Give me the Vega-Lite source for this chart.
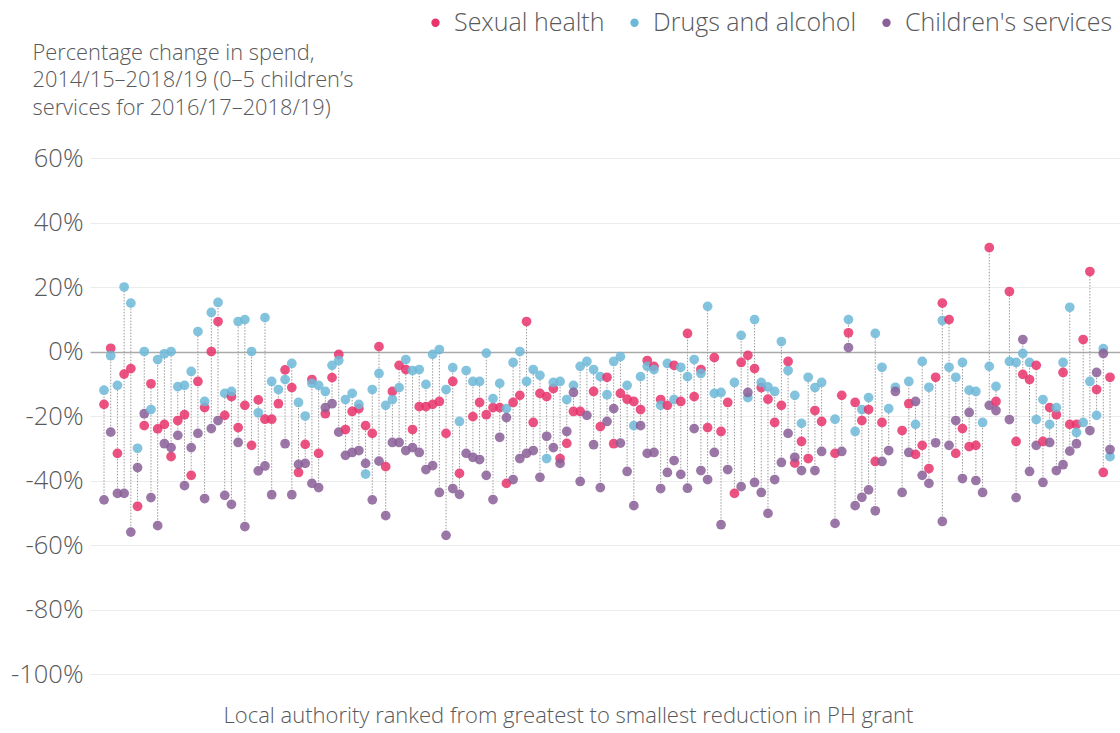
{
  "$schema": "https://vega.github.io/schema/vega-lite/v6.json",
  "width": 1030,
  "height": 516,
  "autosize": "none",
  "padding": {"left": 90, "top": 158, "right": 0, "bottom": 59},
  "background": "white",
  "config": {"font": "Open Sans", "view": {"stroke": null}},
  "data": {"values": [
    {"rank":1,"sh":-16.4,"da":-12,"cs":-46},
    {"rank":2,"sh":1,"da":-1.3,"cs":-25},
    {"rank":3,"sh":-31.6,"da":-10.5,"cs":-44},
    {"rank":4,"sh":-7,"da":20,"cs":-44},
    {"rank":5,"sh":-5.3,"da":15,"cs":-56},
    {"rank":6,"sh":-48,"da":-30,"cs":-36},
    {"rank":7,"sh":-23,"da":0,"cs":-19.3},
    {"rank":8,"sh":-10,"da":-18,"cs":-45.3},
    {"rank":9,"sh":-24,"da":-2.5,"cs":-54},
    {"rank":10,"sh":-22.6,"da":-0.7,"cs":-28.6},
    {"rank":11,"sh":-32.6,"da":0,"cs":-29.8},
    {"rank":12,"sh":-21.4,"da":-10.9,"cs":-26},
    {"rank":13,"sh":-19.6,"da":-10.5,"cs":-41.6},
    {"rank":14,"sh":-38.4,"da":-6.2,"cs":-29.8},
    {"rank":15,"sh":-9.3,"da":6.2,"cs":-25.4},
    {"rank":16,"sh":-17.4,"da":-15.5,"cs":-45.6},
    {"rank":17,"sh":0,"da":12.1,"cs":-23.9},
    {"rank":18,"sh":9.3,"da":15.2,"cs":-21.4},
    {"rank":19,"sh":-19.8,"da":-13,"cs":-44.6},
    {"rank":20,"sh":-14,"da":-12.4,"cs":-47.4},
    {"rank":21,"sh":-23.6,"da":9.3,"cs":-28.2},
    {"rank":22,"sh":-16.7,"da":9.9,"cs":-54.3},
    {"rank":23,"sh":-29.1,"da":0,"cs":null},
    {"rank":24,"sh":-15,"da":-19,"cs":-37},
    {"rank":25,"sh":-21,"da":10.5,"cs":-35.5},
    {"rank":26,"sh":-21,"da":-9.3,"cs":-44.4},
    {"rank":27,"sh":-16.2,"da":-11.8,"cs":null},
    {"rank":28,"sh":-5.7,"da":-8.7,"cs":-28.6},
    {"rank":29,"sh":-11.2,"da":-3.7,"cs":-44.4},
    {"rank":30,"sh":-37.5,"da":-15.8,"cs":-35},
    {"rank":31,"sh":-28.8,"da":-20,"cs":-34.7},
    {"rank":32,"sh":-8.7,"da":-9.9,"cs":-40.9},
    {"rank":33,"sh":-31.6,"da":-10.5,"cs":-42.2},
    {"rank":34,"sh":-19.3,"da":-12.4,"cs":-17.4},
    {"rank":35,"sh":-8.1,"da":-4.3,"cs":-16.2},
    {"rank":36,"sh":-0.9,"da":-2.8,"cs":-25},
    {"rank":37,"sh":-24.2,"da":-14.9,"cs":-32.2},
    {"rank":38,"sh":-18.6,"da":-13,"cs":-31.3},
    {"rank":39,"sh":-17.7,"da":-16.4,"cs":-30.7},
    {"rank":40,"sh":-23,"da":-38,"cs":-34.7},
    {"rank":41,"sh":-25.4,"da":-11.8,"cs":-46},
    {"rank":42,"sh":1.5,"da":-6.8,"cs":-34},
    {"rank":43,"sh":-35.7,"da":-16.7,"cs":-50.9},
    {"rank":44,"sh":-12.4,"da":-14.9,"cs":-28.2},
    {"rank":45,"sh":-4.3,"da":-11.2,"cs":-28.2},
    {"rank":46,"sh":-5.6,"da":-2.5,"cs":-30.7},
    {"rank":47,"sh":-24.2,"da":-5.9,"cs":-29.8},
    {"rank":48,"sh":-17.1,"da":-5.6,"cs":-31.3},
    {"rank":49,"sh":-17.1,"da":-10.2,"cs":-36.6},
    {"rank":50,"sh":-16.4,"da":-0.9,"cs":-35.4},
    {"rank":51,"sh":-15.5,"da":0.6,"cs":-43.7},
    {"rank":52,"sh":-25.4,"da":-11.8,"cs":-57},
    {"rank":53,"sh":-9.3,"da":-5,"cs":-42.5},
    {"rank":54,"sh":-37.8,"da":-21.7,"cs":-44.3},
    {"rank":55,"sh":null,"da":-5.9,"cs":-31.6},
    {"rank":56,"sh":-20.2,"da":-9.3,"cs":-32.8},
    {"rank":57,"sh":-15.8,"da":-9.3,"cs":-33.5},
    {"rank":58,"sh":-19.6,"da":-0.5,"cs":-38.4},
    {"rank":59,"sh":-17.4,"da":-14.6,"cs":-45.9},
    {"rank":60,"sh":-17.4,"da":-9.9,"cs":-26.6},
    {"rank":61,"sh":-40.9,"da":-17.7,"cs":-20.5},
    {"rank":62,"sh":-15.8,"da":-3.4,"cs":-39.7},
    {"rank":63,"sh":-13.6,"da":0,"cs":-33.2},
    {"rank":64,"sh":9.3,"da":-9.3,"cs":-31.6},
    {"rank":65,"sh":-22,"da":-5.6,"cs":-30.7},
    {"rank":66,"sh":-13,"da":-7.4,"cs":-39},
    {"rank":67,"sh":-14,"da":-33.2,"cs":-26.3},
    {"rank":68,"sh":-11.5,"da":-9.6,"cs":-29.8},
    {"rank":69,"sh":-33.2,"da":-9.3,"cs":-34.7},
    {"rank":70,"sh":-28.5,"da":-14.9,"cs":-24.8},
    {"rank":71,"sh":-18.6,"da":-10.5,"cs":-12.7},
    {"rank":72,"sh":-18.6,"da":-4.6,"cs":-40.3},
    {"rank":73,"sh":null,"da":-3.1,"cs":-19.8},
    {"rank":74,"sh":-12.4,"da":-5.6,"cs":-28.9},
    {"rank":75,"sh":-23.3,"da":-7.8,"cs":-42.2},
    {"rank":76,"sh":-8,"da":-13.4,"cs":-21.7},
    {"rank":77,"sh":-28.6,"da":-3.1,"cs":-17.7},
    {"rank":78,"sh":-13,"da":-1.6,"cs":-28.4},
    {"rank":79,"sh":-14.8,"da":-10.5,"cs":-37.2},
    {"rank":80,"sh":-15.5,"da":-23,"cs":-47.8},
    {"rank":81,"sh":-18,"da":-7.8,"cs":-23},
    {"rank":82,"sh":-2.8,"da":-4.6,"cs":-31.6},
    {"rank":83,"sh":-4.6,"da":-5.6,"cs":-31.3},
    {"rank":84,"sh":-14.9,"da":-16.7,"cs":-42.5},
    {"rank":85,"sh":-16.7,"da":-3.7,"cs":-37.5},
    {"rank":86,"sh":-4.3,"da":-14.9,"cs":-33.8},
    {"rank":87,"sh":-15.5,"da":-4.9,"cs":-38.1},
    {"rank":88,"sh":5.6,"da":-7.8,"cs":-42.4},
    {"rank":89,"sh":-14,"da":-2.5,"cs":-23.9},
    {"rank":90,"sh":-5.6,"da":-6.8,"cs":-36.9},
    {"rank":91,"sh":-23.6,"da":14,"cs":-39.7},
    {"rank":92,"sh":-1.9,"da":-13,"cs":-31.3},
    {"rank":93,"sh":-24.8,"da":-12.7,"cs":-53.7},
    {"rank":94,"sh":-15.8,"da":null,"cs":-36.6},
    {"rank":95,"sh":-44,"da":-9.6,"cs":null},
    {"rank":96,"sh":-3.4,"da":5,"cs":-41.9},
    {"rank":97,"sh":-1.2,"da":-14.3,"cs":-12.7},
    {"rank":98,"sh":-5.3,"da":9.9,"cs":-40.6},
    {"rank":99,"sh":-11.2,"da":-9.6,"cs":-43.7},
    {"rank":100,"sh":-14.8,"da":-11,"cs":-50.2},
    {"rank":101,"sh":-22,"da":-12.4,"cs":-39.7},
    {"rank":102,"sh":-16.7,"da":3.1,"cs":-34.4},
    {"rank":103,"sh":-3.1,"da":-5.9,"cs":-25.4},
    {"rank":104,"sh":-34.6,"da":-13.6,"cs":-32.8},
    {"rank":105,"sh":-27.9,"da":-22.3,"cs":-36.9},
    {"rank":106,"sh":-33.2,"da":-8,"cs":null},
    {"rank":107,"sh":-18.3,"da":-11.2,"cs":-36.9},
    {"rank":108,"sh":-21.7,"da":-9.6,"cs":-31},
    {"rank":110,"sh":-31.6,"da":-21,"cs":-53.3},
    {"rank":111,"sh":-13.6,"da":null,"cs":-31},
    {"rank":112,"sh":5.8,"da":9.9,"cs":1.2},
    {"rank":113,"sh":-15.8,"da":-24.8,"cs":-47.8},
    {"rank":114,"sh":-21.4,"da":-18,"cs":-45.2},
    {"rank":115,"sh":-18,"da":-14.3,"cs":-42.9},
    {"rank":116,"sh":-34.1,"da":5.6,"cs":-49.4},
    {"rank":117,"sh":-22,"da":-4.9,"cs":-34.1},
    {"rank":118,"sh":null,"da":-17.7,"cs":-30.7},
    {"rank":119,"sh":null,"da":-11.1,"cs":-12.4},
    {"rank":120,"sh":-24.5,"da":null,"cs":-43.7},
    {"rank":121,"sh":-16.2,"da":-9.3,"cs":-31.3},
    {"rank":122,"sh":-31.9,"da":-22.6,"cs":-15.5},
    {"rank":123,"sh":-29.1,"da":-3.1,"cs":-38.4},
    {"rank":124,"sh":-36.3,"da":-11.1,"cs":-40.9},
    {"rank":125,"sh":-8,"da":null,"cs":-28.3},
    {"rank":126,"sh":15,"da":9.6,"cs":-52.7},
    {"rank":127,"sh":9.9,"da":-4.9,"cs":-29.1},
    {"rank":128,"sh":-31.6,"da":-8,"cs":-21.4},
    {"rank":129,"sh":-23.9,"da":-3.4,"cs":-39.4},
    {"rank":130,"sh":-29.5,"da":-12,"cs":-18.9},
    {"rank":131,"sh":-29.1,"da":-12.4,"cs":-40},
    {"rank":132,"sh":null,"da":-22,"cs":-43.7},
    {"rank":133,"sh":32.2,"da":-4.6,"cs":-16.7},
    {"rank":134,"sh":-15.5,"da":-10.8,"cs":-18.3},
    {"rank":136,"sh":18.6,"da":-3.1,"cs":-21.1},
    {"rank":137,"sh":-27.9,"da":-3.4,"cs":-45.3},
    {"rank":138,"sh":-7.1,"da":-0.6,"cs":3.7},
    {"rank":139,"sh":-8.7,"da":-3.4,"cs":-37.2},
    {"rank":140,"sh":-4.3,"da":-21.1,"cs":-29.1},
    {"rank":141,"sh":-27.9,"da":-14.9,"cs":-40.6},
    {"rank":142,"sh":-17.4,"da":-22.6,"cs":-28.2},
    {"rank":143,"sh":-19.6,"da":-17.4,"cs":-36.9},
    {"rank":144,"sh":-6.5,"da":-3.4,"cs":-35.1},
    {"rank":145,"sh":-22.6,"da":13.7,"cs":-30.9},
    {"rank":146,"sh":-22.6,"da":-25.1,"cs":-28.6},
    {"rank":147,"sh":3.7,"da":-22,"cs":null},
    {"rank":148,"sh":24.8,"da":-9.3,"cs":-24.5},
    {"rank":149,"sh":-11.8,"da":-19.8,"cs":-6.5},
    {"rank":150,"sh":-37.5,"da":0.9,"cs":-0.6},
    {"rank":151,"sh":-8,"da":-32.6,"cs":-30.4}
  ]},
  "transform": [
    {"fold": ["sh", "da", "cs"], "as": ["series", "value"]},
    {"filter": "datum.value != null"}
  ],
  "encoding": {
    "x": {
      "field": "rank", "type": "quantitative",
      "scale": {"domain": [-1.09, 152.49], "nice": false, "zero": false},
      "axis": {
        "title": "Local authority ranked from greatest to smallest reduction in PH grant",
        "labels": false, "ticks": false, "domain": false, "grid": false,
        "titleFontSize": 22, "titleFontWeight": 300, "titleColor": "#58595b",
        "titlePadding": 31, "titleX": 478, "titleAlign": "center"
      }
    }
  },
  "layer": [
    {
      "mark": {"type": "rule", "strokeDash": [1.5, 1.5], "color": "#9a9a9a", "strokeWidth": 1},
      "encoding": {
        "y": {
          "aggregate": "min", "field": "value", "type": "quantitative",
          "scale": {"domain": [-100, 60], "nice": false},
          "axis": {
            "title": ["Percentage change in spend,", "2014/15–2018/19 (0–5 children’s", "services for 2016/17–2018/19)"],
            "titleAngle": 0, "titleAlign": "left", "titleBaseline": "top",
            "titleX": -58, "titleY": -116, "titleFontSize": 21.8, "titleFontWeight": 300,
            "titleColor": "#58595b", "titleLineHeight": 27.5,
            "values": [-100, -80, -60, -40, -20, 0, 20, 40, 60],
            "labelExpr": "datum.value + '%'",
            "labelFontSize": 25.5, "labelFontWeight": 300, "labelColor": "#58595b",
            "labelPadding": 7, "ticks": false, "domain": false,
            "grid": true,
            "gridColor": {"condition": {"test": "datum.value === 0", "value": "#aaaaaa"}, "value": "#ececec"},
            "gridWidth": {"condition": {"test": "datum.value === 0", "value": 1.5}, "value": 1}
          }
        },
        "y2": {"aggregate": "max", "field": "value"}
      }
    },
    {
      "mark": {"type": "circle", "size": 95, "opacity": 0.85},
      "encoding": {
        "y": {
          "field": "value", "type": "quantitative",
          "scale": {"domain": [-100, 60], "nice": false},
          "axis": {
            "title": ["Percentage change in spend,", "2014/15–2018/19 (0–5 children’s", "services for 2016/17–2018/19)"],
            "titleAngle": 0, "titleAlign": "left", "titleBaseline": "top",
            "titleX": -58, "titleY": -116, "titleFontSize": 21.8, "titleFontWeight": 300,
            "titleColor": "#58595b", "titleLineHeight": 27.5,
            "values": [-100, -80, -60, -40, -20, 0, 20, 40, 60],
            "labelExpr": "datum.value + '%'",
            "labelFontSize": 25.5, "labelFontWeight": 300, "labelColor": "#58595b",
            "labelPadding": 7, "ticks": false, "domain": false,
            "grid": true,
            "gridColor": {"condition": {"test": "datum.value === 0", "value": "#aaaaaa"}, "value": "#ececec"},
            "gridWidth": {"condition": {"test": "datum.value === 0", "value": 1.5}, "value": 1}
          }
        },
        "color": {
          "field": "series", "type": "nominal",
          "scale": {"domain": ["sh", "da", "cs"], "range": ["#e8336b", "#6db8d8", "#8a5f98"]},
          "legend": {
            "orient": "none", "legendX": 333, "legendY": -148, "direction": "horizontal",
            "title": null, "symbolType": "circle", "symbolSize": 70, "symbolOpacity": 1, "symbolStrokeWidth": 0,
            "labelFontSize": 25, "labelFontWeight": 300, "labelColor": "#58595b", "labelLimit": 300,
            "columnPadding": 17, "labelOffset": 6,
            "labelExpr": "datum.label == 'sh' ? 'Sexual health' : datum.label == 'da' ? 'Drugs and alcohol' : 'Children\\'s services'"
          }
        }
      }
    }
  ]
}
